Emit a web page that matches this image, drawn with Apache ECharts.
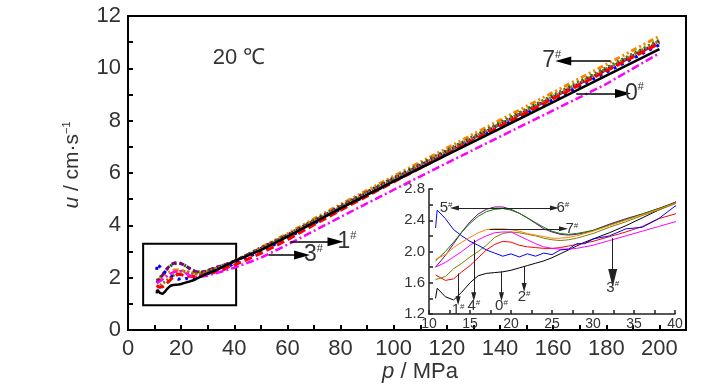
<!DOCTYPE html>
<html><head><meta charset="utf-8">
<script src="https://cdn.jsdelivr.net/npm/echarts@6/dist/echarts.min.js"></script>
<style>html,body{margin:0;padding:0;background:#fff}#c{width:727px;height:390px}</style>
</head><body><div id="c"></div>
<script>
// pressure p / MPa
const pressure = [10.8, 11, 12, 13, 14, 15, 16, 17, 18, 19, 20, 21, 22, 23, 24, 25, 26, 27, 28, 29, 30, 32, 34, 36, 38, 40, 50, 60, 70, 80, 100, 120, 140, 160, 180, 200];
// velocity u / cm·s-1 for each sample
const u0 = [1.40, 1.53, 1.42, 1.38, 1.48, 1.60, 1.69, 1.72, 1.73, 1.74, 1.76, 1.79, 1.82, 1.85, 1.88, 1.92, 1.97, 2.02, 2.07, 2.12, 2.16, 2.24, 2.33, 2.43, 2.53, 2.63, 3.05, 3.57, 4.10, 4.65, 5.68, 6.69, 7.70, 8.71, 9.72, 10.73];
const u1 = [1.70, 1.68, 1.63, 1.65, 1.74, 1.82, 1.92, 2.02, 2.09, 2.13, 2.12, 2.08, 2.06, 2.05, 2.04, 2.04, 2.05, 2.07, 2.09, 2.11, 2.13, 2.19, 2.25, 2.32, 2.42, 2.48, 2.93, 3.45, 4.02, 4.58, 5.66, 6.72, 7.78, 8.84, 9.90, 10.95];
const u2 = [1.64, 1.65, 1.68, 1.78, 1.85, 1.93, 2.00, 2.08, 2.18, 2.23, 2.25, 2.24, 2.22, 2.20, 2.17, 2.15, 2.14, 2.15, 2.17, 2.20, 2.23, 2.31, 2.38, 2.46, 2.53, 2.61, 3.10, 3.60, 4.15, 4.70, 5.76, 6.82, 7.88, 8.93, 9.98, 11.05];
const u3 = [1.80, 1.81, 1.86, 1.93, 2.00, 2.08, 2.15, 2.20, 2.24, 2.25, 2.25, 2.20, 2.15, 2.10, 2.06, 2.04, 2.03, 2.03, 2.04, 2.06, 2.08, 2.14, 2.20, 2.26, 2.32, 2.38, 2.76, 3.26, 3.79, 4.32, 5.36, 6.38, 7.39, 8.39, 9.40, 10.58];
const u4 = [2.30, 2.53, 2.42, 2.28, 2.20, 2.13, 2.08, 2.02, 1.98, 1.94, 1.97, 1.93, 1.97, 1.94, 1.98, 1.96, 2.02, 2.03, 2.10, 2.10, 2.16, 2.20, 2.29, 2.31, 2.42, 2.58, 3.00, 3.52, 4.07, 4.62, 5.68, 6.72, 7.76, 8.80, 9.85, 10.90];
const u5 = [1.80, 1.82, 1.95, 2.10, 2.25, 2.38, 2.48, 2.54, 2.57, 2.57, 2.54, 2.49, 2.43, 2.36, 2.29, 2.25, 2.22, 2.21, 2.22, 2.24, 2.27, 2.35, 2.42, 2.48, 2.55, 2.63, 3.12, 3.62, 4.17, 4.72, 5.78, 6.82, 7.86, 8.90, 9.95, 11.00];
const u6 = [1.88, 1.90, 2.00, 2.12, 2.25, 2.36, 2.45, 2.51, 2.54, 2.55, 2.53, 2.49, 2.43, 2.37, 2.31, 2.26, 2.23, 2.22, 2.23, 2.25, 2.27, 2.34, 2.41, 2.48, 2.55, 2.62, 3.14, 3.64, 4.20, 4.75, 5.82, 6.87, 7.92, 8.97, 10.02, 11.08];
const u7 = [1.90, 1.92, 1.96, 2.05, 2.12, 2.18, 2.24, 2.28, 2.29, 2.29, 2.28, 2.26, 2.23, 2.21, 2.19, 2.17, 2.17, 2.18, 2.20, 2.23, 2.26, 2.33, 2.40, 2.47, 2.54, 2.62, 3.15, 3.68, 4.25, 4.80, 5.88, 6.95, 8.02, 9.08, 10.15, 11.23];
const sampleNames = ['0#', '1#', '2#', '3#', '4#', '5#', '6#', '7#'];
const xTicksMain = [0, 20, 40, 60, 80, 100, 120, 140, 160, 180, 200];
const yTicksMain = [0, 2, 4, 6, 8, 10, 12];
const xTicksInset = [10, 15, 20, 25, 30, 35, 40];
const yTicksInset = [1.2, 1.6, 2.0, 2.4, 2.8];
// annotations (data coordinates)
const zoomBox = [5.7, 0.95, 40.7, 3.3];
const mainArrows = [
  {label: '7', from: [181.6, 10.28], to: [163.8, 10.28]},
  {label: '0', from: [168.7, 9.04], to: [186.3, 9.04]},
  {label: '1', from: [61.1, 3.37], to: [78.1, 3.37]},
  {label: '3', from: [52.9, 2.87], to: [65.5, 2.87]}
];
const insetArrows = [
  {label: '1', from: [13.55, 1.72], to: [13.55, 1.37]},
  {label: '4', from: [15.46, 2.15], to: [15.46, 1.42]},
  {label: '0', from: [18.84, 1.745], to: [18.84, 1.42]},
  {label: '2', from: [21.6, 1.81], to: [21.6, 1.54]},
  {label: '5', from: [19.0, 2.556], to: [13.1, 2.556]},
  {label: '6', from: [19.0, 2.556], to: [25.3, 2.556]},
  {label: '7', from: [17.4, 2.29], to: [26.4, 2.29]}
];
const insetBigArrow = {label: '3', from: [32.4, 2.17], to: [32.4, 1.66]};

const FONT = "'Liberation Sans',Arial,sans-serif";
const TXT = '#333';
const series = [u0, u1, u2, u3, u4, u5, u6, u7];
const colors = ['#000000', '#ff0000', '#808000', '#ff00ff', '#0000ff', '#800080', '#008000', '#ff8000'];
const mainDash = ['solid', [8, 4], [2, 2], [8, 3, 2, 3], [3, 5], [5, 3], [2, 3], [6, 3, 2, 3, 2, 3]];
const mainWidth = [2.5, 3, 3, 2.5, 3, 3, 3, 3];

function pts(arr) { return pressure.map((p, i) => [p, arr[i]]); }
const hashRich = (big, small) => ({
  n: {fontSize: big, fontFamily: FONT, color: TXT},
  s: {fontSize: small, fontFamily: FONT, color: TXT, verticalAlign: 'top'}
});
function arrowLines(list, big, small, symSize) {
  return list.map(a => [
    {coord: a.from, symbol: 'none'},
    {coord: a.to, symbol: 'triangle', symbolSize: symSize,
     label: {show: true, position: 'end', distance: 2, formatter: '{n|' + a.label + '}{s|#}', rich: hashRich(big, small)}}
  ]);
}

const chart = echarts.init(document.getElementById('c'), null, {renderer: 'canvas'});
const seriesList = [];
[7, 6, 5, 2, 4, 1, 3, 0].forEach(k => {
  seriesList.push({
    name: sampleNames[k], type: 'line', xAxisIndex: 0, yAxisIndex: 0,
    data: pts(series[k]), showSymbol: false, symbol: 'none', smooth: false,
    lineStyle: {color: colors[k], width: mainWidth[k], type: mainDash[k]},
    animation: false, silent: true, z: 3
  });
});
seriesList.push({
  type: 'line', xAxisIndex: 0, yAxisIndex: 0, data: [], silent: true, animation: false, z: 5,
  markArea: {silent: true, itemStyle: {color: 'rgba(0,0,0,0)', borderColor: '#000', borderWidth: 2},
    data: [[{coord: [zoomBox[0], zoomBox[1]]}, {coord: [zoomBox[2], zoomBox[3]]}]]},
  markLine: {silent: true, animation: false, symbol: ['none', 'triangle'], precision: 3,
    lineStyle: {color: '#000', width: 1.6, type: 'solid'},
    label: {color: TXT},
    data: arrowLines(mainArrows, 23, 11, [9, 16])}
});
[0, 1, 2, 3, 4, 5, 6, 7].forEach(k => {
  seriesList.push({
    name: sampleNames[k] + ' inset', type: 'line', xAxisIndex: 1, yAxisIndex: 1,
    data: pts(series[k]), showSymbol: false, symbol: 'none',
    lineStyle: {color: colors[k], width: 1, type: 'solid'},
    animation: false, silent: true, clip: true, z: 3
  });
});
seriesList.push({
  type: 'line', xAxisIndex: 1, yAxisIndex: 1, data: [], silent: true, animation: false, z: 5,
  markLine: {silent: true, animation: false, symbol: ['none', 'triangle'], precision: 3,
    lineStyle: {color: '#222', width: 1, type: 'solid'},
    data: arrowLines(insetArrows, 15, 8, [5, 9]).concat(arrowLines([insetBigArrow], 15, 8, [9, 18]))}
});

const axisCommonMain = {
  axisLine: {show: true, onZero: false, lineStyle: {color: '#000', width: 2}},
  axisTick: {show: true, inside: true, length: 5, lineStyle: {color: '#000', width: 2}},
  minorTick: {show: true, splitNumber: 2, length: 5, lineStyle: {color: '#000', width: 2}},
  splitLine: {show: false}
};

chart.setOption({
  backgroundColor: '#fff',
  animation: false,
  grid: [
    {left: 128, right: 41, top: 16, bottom: 60, show: true, borderColor: '#000', borderWidth: 2, backgroundColor: 'transparent'},
    {left: 429, right: 52, top: 189, bottom: 76, show: false}
  ],
  xAxis: [
    Object.assign({type: 'value', gridIndex: 0, min: 0, max: 210, interval: 20,
      axisLabel: {fontSize: 22, fontFamily: FONT, color: TXT, margin: 8,
        formatter: v => xTicksMain.includes(v) ? String(v) : ''}}, axisCommonMain),
    {type: 'value', gridIndex: 1, min: 10, max: 40, interval: 5,
      axisLine: {show: true, onZero: false, lineStyle: {color: '#222', width: 1.5}},
      axisTick: {show: true, inside: true, length: 4, lineStyle: {color: '#222', width: 1.5}},
      minorTick: {show: true, splitNumber: 2, length: 4, lineStyle: {color: '#222', width: 1.5}},
      splitLine: {show: false},
      axisLabel: {fontSize: 14, fontFamily: FONT, color: TXT, margin: 3,
        formatter: v => xTicksInset.includes(v) ? String(v) : ''}}
  ],
  yAxis: [
    Object.assign({type: 'value', gridIndex: 0, min: 0, max: 12, interval: 2,
      axisLabel: {fontSize: 22, fontFamily: FONT, color: TXT, margin: 7,
        formatter: v => yTicksMain.includes(v) ? String(v) : ''}}, axisCommonMain),
    {type: 'value', gridIndex: 1, min: 1.2, max: 2.8, interval: 0.4,
      axisLine: {show: true, onZero: false, lineStyle: {color: '#222', width: 1.5}},
      axisTick: {show: true, inside: true, length: 4, lineStyle: {color: '#222', width: 1.5}},
      minorTick: {show: true, splitNumber: 2, length: 4, lineStyle: {color: '#222', width: 1.5}},
      splitLine: {show: false},
      axisLabel: {fontSize: 15, fontFamily: FONT, color: TXT, margin: 4,
        formatter: v => {const r = Math.round(v * 10) / 10; return yTicksInset.some(t => Math.abs(t - r) < 1e-6) ? r.toFixed(1) : '';}}}
  ],
  graphic: [
    {type: 'text', x: 239, y: 58, silent: true,
      style: {text: '20 ℃', font: '22px ' + FONT, fill: TXT, align: 'center', verticalAlign: 'middle'}},
    {type: 'text', x: 420, y: 372, silent: true,
      style: {text: '{i|p} / MPa', align: 'center', verticalAlign: 'middle', fill: TXT, font: '22px ' + FONT,
        rich: {i: {fontStyle: 'italic', fontSize: 22, fontFamily: FONT, color: TXT}}}},
    {type: 'text', x: 72, y: 165, rotation: Math.PI / 2, silent: true,
      style: {text: '{i|u} / cm·s{s|−1}', align: 'center', verticalAlign: 'middle', fill: TXT, font: '21px ' + FONT,
        rich: {i: {fontStyle: 'italic', fontSize: 21, fontFamily: FONT, color: TXT},
               s: {fontSize: 11, fontFamily: FONT, color: TXT, verticalAlign: 'top'}}}}
  ],
  series: seriesList
});
</script>
</body></html>
